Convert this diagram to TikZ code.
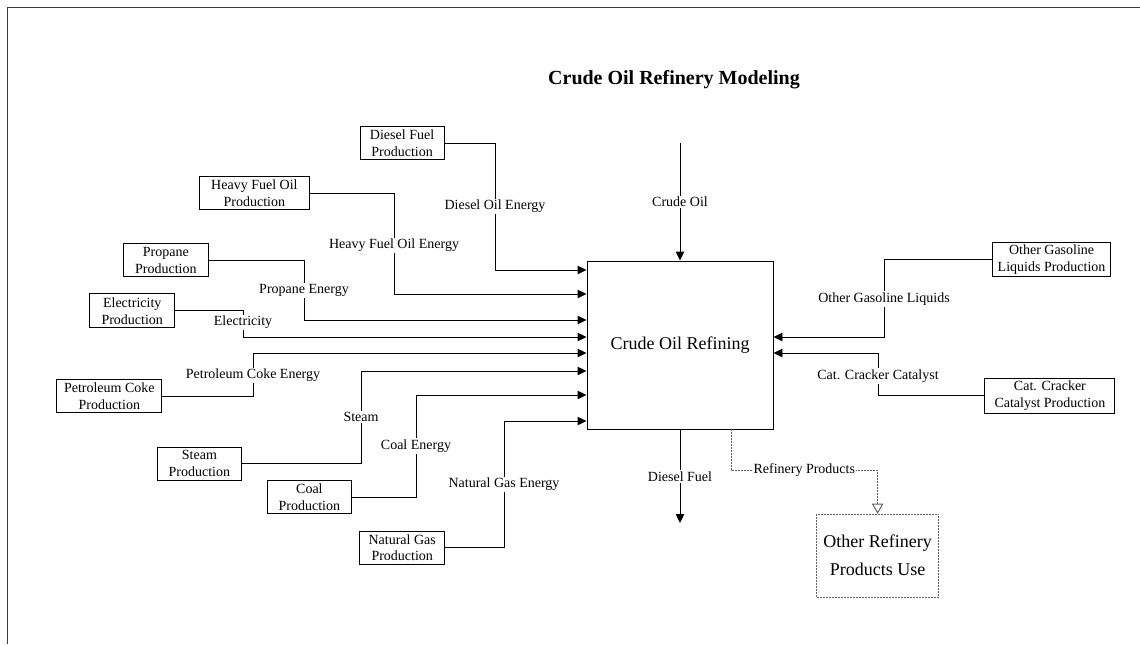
\documentclass[tikz,border=0pt]{standalone}
\usepackage{fontspec}
\setmainfont{Liberation Serif}
\usepackage{xcolor}
\usetikzlibrary{arrows.meta,positioning}
\definecolor{framegray}{RGB}{60,60,60}
\definecolor{flowgray}{RGB}{95,95,95}

\begin{document}
\begin{tikzpicture}[x=0.75pt, y=-0.75pt,
prod/.style={draw, line width=0.7pt, align=center, inner sep=2pt, minimum width=63pt, minimum height=24.75pt, font=\fontsize{10.5}{12.6}\selectfont},
proc/.style={draw, line width=0.7pt, align=center, minimum width=139.5pt, minimum height=126pt, font=\fontsize{13.5}{16}\selectfont},
lbl/.style={fill=white, inner sep=1pt, font=\fontsize{10.5}{12.6}\selectfont},
arrow/.style={-{Triangle[length=6.75pt, width=6.3pt]}, line width=0.7pt},
other/.style={-{Triangle[open, length=7.5pt, width=8.5pt]}, flowgray, line width=0.7pt, dash pattern=on 1.5pt off 0.75pt}
]
\useasboundingbox (0,0) rectangle (1140,644);
\draw[line width=1pt, framegray] (1140,7.5) -- (7.5,7.5) -- (7.5,644);

\node[font=\fontsize{15}{18}\selectfont\bfseries] (title) at (674,80) {Crude Oil Refinery Modeling};
\node[proc] (main) at (680,345) {Crude Oil Refining};

% suppliers on the left
\node[prod, above left=138.75pt and 106.5pt of main.west] (dfp) {Diesel Fuel\\Production};
\node[prod, minimum width=82.5pt, above left=101.25pt and 207.5pt of main.west] (hfp) {Heavy Fuel Oil\\Production};
\node[prod, minimum width=63.75pt, above left=50.8pt and 283.3pt of main.west] (pp) {Propane\\Production};
\node[prod, minimum width=63.75pt, minimum height=25.5pt, above left=12.5pt and 308.5pt of main.west] (ep) {Electricity\\Production};
\node[prod, minimum width=78.75pt, below left=25.5pt and 318.2pt of main.west] (pcp) {Petroleum Coke\\Production};
\node[prod, below left=76.3pt and 258.5pt of main.west] (sp) {Steam\\Production};
\node[prod, below left=101.25pt and 176pt of main.west] (cp) {Coal\\Production};
\node[prod, minimum width=63.75pt, below left=139.3pt and 106pt of main.west] (ngp) {Natural Gas\\Production};

% suppliers on the right
\node[prod, minimum width=88.5pt, above right=50.8pt and 164pt of main.east] (ogp) {Other Gasoline\\Liquids Production};
\node[prod, minimum width=97.5pt, below right=24.75pt and 158.25pt of main.east] (ccp) {Cat. Cracker\\Catalyst Production};

% other products
\node[draw, flowgray, line width=0.7pt, dash pattern=on 1.5pt off 0.75pt, text=black, align=center, minimum width=91.5pt, minimum height=62.25pt, font=\fontsize{13.5}{21}\selectfont, below right=63.2pt and 32pt of main.south east] (orp) {Other Refinery\\Products Use};

\coordinate (crude) at (680,143);
\coordinate (dout) at (680,523);

\draw[arrow] (crude) -- node[lbl]{Crude Oil} (main.north);
\draw[arrow] (main.south) -- node[lbl]{Diesel Fuel} (dout);

\draw[arrow] (dfp.east) -| node[lbl, pos=.75]{Diesel Oil Energy} (495,270) -- (main.west |- 0,270);
\draw[arrow] (hfp.east) -| node[lbl, pos=.76]{Heavy Fuel Oil Energy} (394,294) -- (main.west |- 0,294);
\draw[arrow] (pp.east) -| node[lbl, pos=.75]{Propane Energy} (304,320) -- (main.west |- 0,320);
\draw[arrow] (ep.east) -| node[lbl, pos=.72]{Electricity} (243,337) -- (main.west |- 0,337);
\draw[arrow] (pcp.east) -| node[lbl, pos=.74]{Petroleum Coke Energy} (253,353) -- (main.west |- 0,353);
\draw[arrow] (sp.east) -| node[lbl, pos=.75]{Steam} (361,371) -- (main.west |- 0,371);
\draw[arrow] (cp.east) -| node[lbl, pos=.75]{Coal Energy} (416,395) -- (main.west |- 0,395);
\draw[arrow] (ngp.east) -| node[lbl, pos=.75]{Natural Gas Energy} (504,421) -- (main.west |- 0,421);

\draw[arrow] (ogp.west) -| node[lbl, pos=.755]{Other Gasoline Liquids} (884,337) -- (main.east |- 0,337);
\draw[arrow] (ccp.west) -| node[lbl, pos=.73]{Cat. Cracker Catalyst} (878,353) -- (main.east |- 0,353);

\draw[other] ([xshift=38.25pt]main.south) -- ++(0,41) -| node[lbl, text=black, pos=.25]{Refinery Products} (orp.north);
\end{tikzpicture}
\end{document}
